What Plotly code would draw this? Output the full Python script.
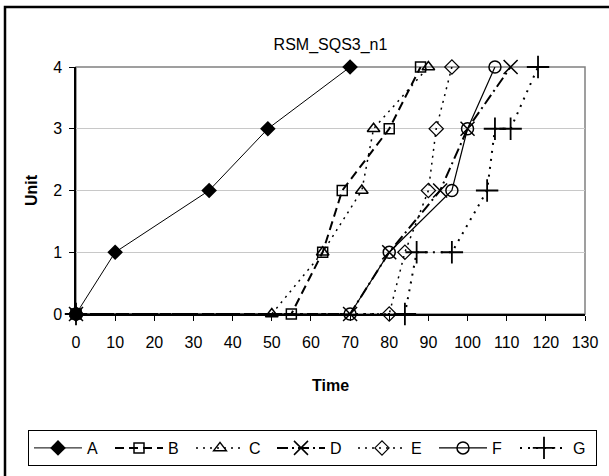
import plotly.graph_objects as go

title = "RSM_SQS3_n1"
names = ["A", "B", "C", "D", "E", "F", "G"]
A_t = [0, 10, 34, 49, 70];            A_u = [0, 1, 2, 3, 4]
B_t = [0, 55, 63, 68, 80, 88];        B_u = [0, 0, 1, 2, 3, 4]
C_t = [0, 50, 63, 73, 76, 90];        C_u = [0, 0, 1, 2, 3, 4]
D_t = [0, 70, 80, 93, 100, 111];      D_u = [0, 0, 1, 2, 3, 4]
E_t = [0, 80, 84, 90, 92, 96];        E_u = [0, 0, 1, 2, 3, 4]
F_t = [0, 70, 80, 96, 100, 107];      F_u = [0, 0, 1, 2, 3, 4]
G_t = [0, 84, 87, 96, 105, 107, 111, 118]; G_u = [0, 0, 1, 1, 2, 3, 3, 4]
x_ticks = list(range(0, 131, 10))
y_ticks = [0, 1, 2, 3, 4]

series = [(A_t, A_u), (B_t, B_u), (C_t, C_u), (D_t, D_u), (E_t, E_u), (F_t, F_u), (G_t, G_u)]
styles = [
    dict(line=dict(width=1, dash="solid"), marker=dict(symbol="diamond", size=12)),
    dict(line=dict(width=2, dash="9px,5px"), marker=dict(symbol="square-open", size=10, line=dict(width=1.5))),
    dict(line=dict(width=1.5, dash="2px,5px"), marker=dict(symbol="triangle-up-open", size=11, line=dict(width=1.5))),
    dict(line=dict(width=2, dash="11px,4px,2px,4px"), marker=dict(symbol="x-thin-open", size=14, line=dict(width=1.5))),
    dict(line=dict(width=1.5, dash="2px,5px"), marker=dict(symbol="diamond-open", size=11, line=dict(width=1.2))),
    dict(line=dict(width=1.2, dash="solid"), marker=dict(symbol="circle-open", size=12, line=dict(width=1.5))),
    dict(line=dict(width=2, dash="2px,6px"), marker=dict(symbol="cross-thin-open", size=16, line=dict(width=1.8))),
]

FONT = "Liberation Sans, Arial, sans-serif"

fig = go.Figure()
for name, (t, u), st in zip(names, series, styles):
    line = dict(color="black", **st["line"])
    marker = dict(color="black", **st["marker"])
    if "line" in marker:
        marker["line"] = dict(color="black", **marker["line"])
    fig.add_trace(go.Scatter(x=t, y=u, name=name, mode="lines+markers",
                             line=line, marker=marker, cliponaxis=False))

W, H = 609, 476
L, R, T, B = 76, 24, 67, 162
pw, ph = W - L - R, H - T - B

def px_x(p):
    return (p - L) / pw

def px_y(p):
    return (H - B - p) / ph

fig.update_layout(
    width=W, height=H,
    margin=dict(l=L, r=R, t=T, b=B, autoexpand=False),
    paper_bgcolor="white", plot_bgcolor="white",
    font=dict(family=FONT, size=16, color="black"),
    title=dict(text=title, x=0.5, xref="paper", xanchor="center",
               y=1 - 44 / H, yanchor="middle", font=dict(size=16)),
    xaxis=dict(range=[0, 130], tickvals=x_ticks, ticks="outside", ticklen=5,
               tickcolor="black", showline=True, linecolor="black", linewidth=1.5,
               showgrid=False, zeroline=False, ticklabelstandoff=8,
               title=dict(text="<b>Time</b>", standoff=30, font=dict(size=16)),
               tickfont=dict(size=16), automargin=False),
    yaxis=dict(range=[0, 4], tickvals=y_ticks, ticks="outside", ticklen=5,
               tickcolor="black", showline=True, linecolor="black", linewidth=1.5,
               showgrid=True, gridcolor="#c8c8c8", gridwidth=1, zeroline=False,
               ticklabelstandoff=4, automargin=False,
               title=dict(text="<b>Unit</b>", standoff=12, font=dict(size=16)),
               tickfont=dict(size=16)),
    legend=dict(orientation="h", x=px_x(28), xref="paper", xanchor="left",
                y=px_y(430), yref="paper", yanchor="top", bordercolor="black", borderwidth=1,
                font=dict(size=16), itemwidth=48, entrywidth=18,
                entrywidthmode="pixels", tracegroupgap=0),
    showlegend=True,
    shapes=[
        dict(type="rect", xref="paper", yref="paper", x0=0, x1=1, y0=0, y1=1,
             line=dict(color="#808080", width=1.5), layer="below"),
        dict(type="rect", xref="paper", yref="paper",
             x0=px_x(5), x1=px_x(640), y0=px_y(520), y1=px_y(7),
             line=dict(color="black", width=2.5), layer="below"),
    ],
)

fig.write_html("out.html")
